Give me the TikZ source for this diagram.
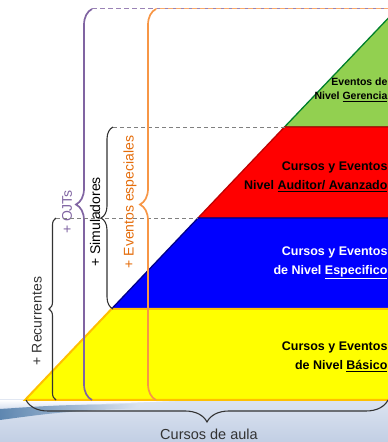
\documentclass[tikz,border=0pt]{standalone}
\usepackage{fontspec}
\setmainfont{Liberation Sans}
\usetikzlibrary{decorations.pathreplacing}

\definecolor{lvlyellow}{HTML}{FFFF00}
\definecolor{lvlorange}{HTML}{FFC000}
\definecolor{lvlblue}{HTML}{0000FF}
\definecolor{lvlnavy}{HTML}{00008B}
\definecolor{lvlred}{HTML}{FF0000}
\definecolor{lvldarkred}{HTML}{C00000}
\definecolor{lvlgreen}{HTML}{92D050}
\definecolor{lvldarkgreen}{HTML}{00802B}
\definecolor{ojtpurple}{HTML}{8064A2}
\definecolor{evtorange}{HTML}{F79646}
\definecolor{evttext}{HTML}{E46C0A}
\definecolor{bracegray}{HTML}{333333}
\definecolor{bgtop}{HTML}{DCE4F1}
\definecolor{bgbot}{HTML}{C2CFE4}
\definecolor{bgstreak}{HTML}{4A78A6}

\tikzset{
  bracelbl/.style={rotate=90, font=\fontsize{14}{14}\selectfont},
  lvltext/.style={anchor=east, align=right, font=\bfseries\fontsize{12.5}{19}\selectfont},
  dashln/.style={gray, line width=0.9pt, dash pattern=on 4pt off 3pt},
}

\begin{document}
\begin{tikzpicture}[x=1pt, y=1pt]
        \useasboundingbox (0,0) rectangle (388,442);
        \clip (0,0) rectangle (388,442);

        % Floor under the pyramid
        \shade[top color=bgtop, bottom color=bgbot] (0,0) rectangle (388,42);
        \shade[top color=white, bottom color=bgtop] (0,34) -- (0,42) -- (200,42) -- cycle;
        \shade[left color=bgstreak, right color=bgtop, opacity=0.85] (0,22) -- (0,33) .. controls (60,37) .. (140,38) -- (140,34) .. controls (60,30) .. cycle;

        % Left edge of the pyramid
        \coordinate (p0) at (25,42);
        \coordinate (p1) at (111.5,133);
        \coordinate (p2) at (198,224);
        \coordinate (p3) at (284.5,315);
        \coordinate (p4) at (397,433);

        % Levels (top first)
        \filldraw[fill=lvlgreen, draw=lvldarkgreen, line width=1.3pt] (p3) -- (p4) -- (400,433) -- (400,315) -- cycle;
        \filldraw[fill=lvlred, draw=lvldarkred, line width=1.3pt] (p2) -- (p3) -- (400,315) -- (400,224) -- cycle;
        \filldraw[fill=lvlblue, draw=lvlnavy, line width=1.3pt] (p1) -- (p2) -- (400,224) -- (400,133) -- cycle;
        \filldraw[fill=lvlyellow, draw=lvlorange, line width=2pt] (p0) -- (p1) -- (400,133) -- (400,42) -- cycle;

        % Level texts
        \node[lvltext, font=\bfseries\fontsize{10.5}{14}\selectfont] (gerencia) at (391,352) {Eventos de\\Nivel \underline{Gerencia}};
        \node[lvltext] (auditor) at (391,265.5) {Cursos y Eventos\\Nivel \underline{Auditor/ Avanzado}};
        \node[lvltext, text=white] (especifico) at (391,179.5) {Cursos y Eventos\\de Nivel \underline{Especifico}};
        \node[lvltext] (basico) at (391,85.5) {Cursos y Eventos\\de Nivel \underline{Básico}};

        % Dashed guides
        \draw[dashln] (56,224) -- (p2);
        \draw[dashln] (113,315) -- (p3);
        \draw[ojtpurple!80, line width=1pt, dash pattern=on 5pt off 3pt] (92,433) -- (388,433);
        \draw[evtorange!80, line width=1pt, dash pattern=on 5pt off 3pt, dash phase=4pt] (156,433) -- (388,433);

        % Braces
        \draw[bracegray, line width=1.1pt, decorate, decoration={brace, amplitude=7pt}] (56,42) -- (56,224);
        \draw[bracegray, line width=1.1pt, decorate, decoration={brace, amplitude=12pt}] (113,133) -- (113,315);
        \draw[ojtpurple, line width=1.7pt, decorate, decoration={brace, amplitude=16pt}] (92,42) -- (92,433);
        \draw[evtorange, line width=1.7pt, decorate, decoration={brace, amplitude=16pt}] (156,42) -- (156,433);
        \draw[bracegray, line width=1.1pt, decorate, decoration={brace, mirror, amplitude=22pt}] (26,42) -- (388,42);

        % Brace labels
        \node[bracelbl, text=bracegray] (recurrentes) at (37,121) {+ Recurrentes};
        \node[bracelbl, text=ojtpurple] (ojts) at (67,230) {+ OJTs};
        \node[bracelbl, text=black] (simuladores) at (95,220) {+ Simuladores};
        \node[bracelbl, text=evttext] (especiales) at (130,240) {+ Eventos especiales};
        \node[font=\fontsize{14.5}{14.5}\selectfont, text=bracegray] (aula) at (209,8) {Cursos de aula};

        % guide over the OJTs label
        \draw[dashln] (56,224) -- (92,224);
\end{tikzpicture}
\end{document}
